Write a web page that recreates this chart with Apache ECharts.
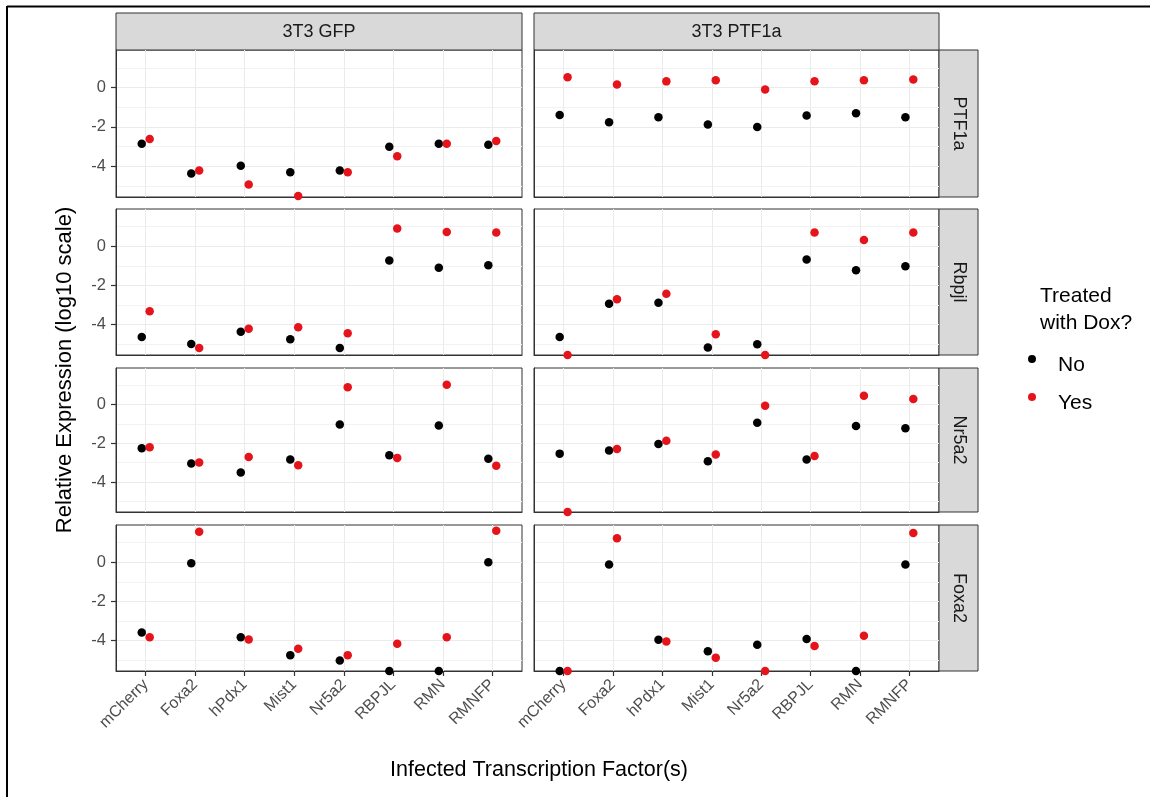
<!DOCTYPE html>
<html>
<head>
<meta charset="utf-8">
<script src="https://cdn.jsdelivr.net/npm/echarts@6/dist/echarts.min.js"></script>
<style>
  html, body { margin: 0; padding: 0; background: #fff; }
  #main { width: 1152px; height: 799px; }
</style>
</head>
<body>
<div id="main"></div>
<script>
// categories
var factors = ['mCherry', 'Foxa2', 'hPdx1', 'Mist1', 'Nr5a2', 'RBPJL', 'RMN', 'RMNFP'];
var cellLines = ['3T3 GFP', '3T3 PTF1a'];
var genes = ['PTF1a', 'Rbpjl', 'Nr5a2', 'Foxa2'];
var yTicks = [-4, -2, 0];
var yMinor = [-5, -3, -1, 1];

// PTF1a row
var ptf1aGfpNo = [-2.85, -4.36, -3.97, -4.29, -4.21, -3.0, -2.85, -2.9];
var ptf1aGfpYes = [-2.61, -4.21, -4.92, -5.5, -4.29, -3.48, -2.85, -2.71];
var ptf1aPtfNo = [-1.39, -1.76, -1.51, -1.88, -2.0, -1.42, -1.31, -1.51];
var ptf1aPtfYes = [0.52, 0.15, 0.31, 0.37, -0.1, 0.32, 0.37, 0.41];
// Rbpjl row
var rbpjlGfpNo = [-4.63, -4.99, -4.36, -4.75, -5.19, -0.73, -1.1, -0.97];
var rbpjlGfpYes = [-3.32, -5.19, -4.21, -4.14, -4.44, 0.9, 0.73, 0.7];
var rbpjlPtfNo = [-4.63, -2.93, -2.88, -5.17, -5.0, -0.68, -1.22, -1.02];
var rbpjlPtfYes = [-5.55, -2.71, -2.42, -4.49, -5.55, 0.7, 0.32, 0.7];
// Nr5a2 row
var nr5a2GfpNo = [-2.25, -3.04, -3.51, -2.84, -1.02, -2.61, -1.07, -2.8];
var nr5a2GfpYes = [-2.2, -2.99, -2.7, -3.13, 0.91, -2.75, 1.03, -3.16];
var nr5a2PtfNo = [-2.53, -2.37, -2.03, -2.92, -0.93, -2.84, -1.1, -1.22];
var nr5a2PtfYes = [-5.55, -2.29, -1.86, -2.58, -0.05, -2.65, 0.46, 0.29];
// Foxa2 row
var foxa2GfpNo = [-3.58, -0.05, -3.83, -4.74, -5.02, -5.55, -5.55, 0.0];
var foxa2GfpYes = [-3.83, 1.56, -3.94, -4.42, -4.74, -4.16, -3.83, 1.61];
var foxa2PtfNo = [-5.55, -0.12, -3.95, -4.54, -4.21, -3.92, -5.55, -0.12];
var foxa2PtfYes = [-5.55, 1.22, -4.04, -4.88, -5.55, -4.28, -3.75, 1.49];

var panels = [
  [[ptf1aGfpNo, ptf1aGfpYes], [ptf1aPtfNo, ptf1aPtfYes]],
  [[rbpjlGfpNo, rbpjlGfpYes], [rbpjlPtfNo, rbpjlPtfYes]],
  [[nr5a2GfpNo, nr5a2GfpYes], [nr5a2PtfNo, nr5a2PtfYes]],
  [[foxa2GfpNo, foxa2GfpYes], [foxa2PtfNo, foxa2PtfYes]]
];

var cols = [{ left: 116, width: 406 }, { left: 534, width: 405 }];
var rows = [{ top: 50, height: 147 }, { top: 209, height: 146 }, { top: 368, height: 144 }, { top: 525, height: 146 }];
var dodge = 0.08;
var colNo = '#000000', colYes = '#e5141b';
var font = 'Liberation Sans, Arial, sans-serif';

var chart = echarts.init(document.getElementById('main'));

var grid = [], xAxis = [], yAxis = [], yMinorAxes = [], series = [], graphic = [];
var xIdx = factors.map(function (f, i) { return i; });

rows.forEach(function (row, r) {
  cols.forEach(function (col, c) {
    var g = r * 2 + c;
    var bottomRow = r === rows.length - 1;
    grid.push({
      left: col.left, top: row.top, width: col.width, height: row.height,
      show: true, borderColor: '#333', borderWidth: 1, backgroundColor: '#fff'
    });
    xAxis.push({
      type: 'value', gridIndex: g, min: -0.6, max: 7.6, position: 'bottom',
      axisLine: { show: true, onZero: false, lineStyle: { color: '#333', width: 1 } },
      axisTick: { show: bottomRow, customValues: xIdx, length: 5, lineStyle: { color: '#333', width: 1.2 } },
      axisLabel: {
        show: bottomRow, customValues: xIdx, rotate: 45, margin: 11,
        fontFamily: font, fontSize: 16, color: '#4d4d4d',
        formatter: function (v) { return factors[v]; }
      },
      splitLine: { show: true, lineStyle: { color: '#ebebeb', width: 1 } }
    });
    yAxis.push({
      type: 'value', gridIndex: g, min: -5.55, max: 1.9, position: 'left',
      axisLine: { show: true, onZero: false, lineStyle: { color: '#333', width: 1 } },
      axisTick: { show: c === 0, customValues: yTicks, length: 5, lineStyle: { color: '#333', width: 1.2 } },
      axisLabel: { show: c === 0, customValues: yTicks, margin: 10, fontFamily: font, fontSize: 16.5, color: '#4d4d4d' },
      splitLine: { show: true, lineStyle: { color: '#ebebeb', width: 1 } }
    });
    yMinorAxes.push({
      type: 'value', gridIndex: g, min: -5.55, max: 1.9, position: 'right',
      axisLine: { show: false, onZero: false },
      axisTick: { show: false, customValues: yMinor },
      axisLabel: { show: false },
      splitLine: { show: true, lineStyle: { color: '#f2f2f2', width: 1 } }
    });
    var pair = panels[r][c];
    [['No', pair[0], -dodge, colNo], ['Yes', pair[1], dodge, colYes]].forEach(function (s) {
      series.push({
        name: s[0], type: 'scatter', xAxisIndex: g, yAxisIndex: g,
        symbol: 'circle', symbolSize: 8.5, clip: false,
        itemStyle: { color: s[3], opacity: 1 },
        data: s[1].map(function (v, i) { return [i + s[2], v]; })
      });
    });
  });
});

// minor axes go after the major ones
yMinorAxes.forEach(function (a) { yAxis.push(a); });
yMinorAxes.forEach(function (a, i) {
  series.push({ type: 'scatter', xAxisIndex: i, yAxisIndex: 8 + i, data: [], silent: true });
});

// strips
cols.forEach(function (col, c) {
  graphic.push({
    type: 'rect', shape: { x: col.left, y: 13, width: col.width, height: 37 },
    style: { fill: '#d9d9d9', stroke: '#333', lineWidth: 1 }
  });
  graphic.push({
    type: 'text', x: col.left + col.width / 2, y: 32,
    style: { text: cellLines[c], fontFamily: font, fontSize: 18, fill: '#1a1a1a', align: 'center', verticalAlign: 'middle' }
  });
});
rows.forEach(function (row, r) {
  graphic.push({
    type: 'rect', shape: { x: 939, y: row.top, width: 39, height: row.height },
    style: { fill: '#d9d9d9', stroke: '#333', lineWidth: 1 }
  });
  graphic.push({
    type: 'text', x: 958.5, y: row.top + row.height / 2, rotation: -Math.PI / 2,
    style: { text: genes[r], fontFamily: font, fontSize: 18, fill: '#1a1a1a', align: 'center', verticalAlign: 'middle' }
  });
});

// axis titles
graphic.push({
  type: 'text', x: 65, y: 370, rotation: Math.PI / 2,
  style: { text: 'Relative Expression (log10 scale)', fontFamily: font, fontSize: 22, fill: '#000', align: 'center', verticalAlign: 'middle' }
});
graphic.push({
  type: 'text', x: 539, y: 770,
  style: { text: 'Infected Transcription Factor(s)', fontFamily: font, fontSize: 21.5, fill: '#000', align: 'center', verticalAlign: 'middle' }
});
// legend title
graphic.push({
  type: 'text', x: 1040, y: 283,
  style: { text: 'Treated\nwith Dox?', fontFamily: font, fontSize: 21, lineHeight: 27, fill: '#000' }
});
// frame lines of the picture
graphic.push({ type: 'line', shape: { x1: 7, y1: 6.5, x2: 1150, y2: 6.5 }, style: { stroke: '#000', lineWidth: 2 } });
graphic.push({ type: 'line', shape: { x1: 7, y1: 6, x2: 7, y2: 797 }, style: { stroke: '#000', lineWidth: 2 } });

// legend key: dot sits in the upper part of a taller box, like the reference
var keyIcon = 'path://M4,0A4,4,0,1,1,4,8A4,4,0,1,1,4,0ZM4,20L4,20Z';

var option = {
  backgroundColor: '#ffffff',
  animation: false,
  grid: grid,
  xAxis: xAxis,
  yAxis: yAxis,
  legend: {
    data: ['No', 'Yes'], orient: 'vertical', left: 1023, top: 348,
    icon: keyIcon, itemWidth: 8, itemHeight: 20, itemGap: 14,
    textStyle: { fontFamily: font, fontSize: 21, color: '#000', lineHeight: 24, padding: [0, 0, 0, 17] }
  },
  graphic: graphic,
  series: series
};
chart.setOption(option);
</script>
</body>
</html>
